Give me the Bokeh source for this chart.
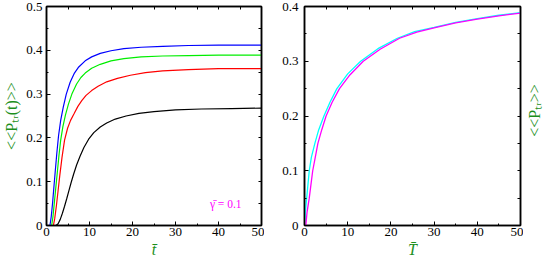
import math
from bokeh.plotting import figure
from bokeh.layouts import row
from bokeh.models import LinearAxis, FixedTicker, Label, Range1d
from bokeh.embed import file_html
from bokeh.resources import INLINE

# ---------------- data: left panel ----------------
t_blue = [0.8, 1.1, 1.4, 1.7, 2.0, 2.4, 2.8, 3.3, 3.9, 4.6, 5.5, 6.5, 7.5, 9, 10.5, 12.5, 15, 18, 22, 27, 33, 40, 50]
p_blue = [0, 0.02, 0.05, 0.085, 0.12, 0.165, 0.205, 0.24, 0.27, 0.3, 0.327, 0.348, 0.362, 0.376, 0.385, 0.393, 0.399, 0.404, 0.407, 0.409, 0.411, 0.412, 0.412]

t_green = [1.2, 1.5, 1.8, 2.1, 2.5, 2.9, 3.3, 3.8, 4.4, 5.1, 5.9, 7, 8, 9, 10.5, 12.5, 15, 18, 22, 27, 33, 40, 50]
p_green = [0, 0.02, 0.05, 0.08, 0.12, 0.16, 0.195, 0.225, 0.252, 0.277, 0.3, 0.323, 0.338, 0.348, 0.359, 0.368, 0.376, 0.381, 0.385, 0.387, 0.388, 0.389, 0.389]

t_red = [1.6, 1.9, 2.3, 2.7, 3.1, 3.6, 4.2, 4.9, 5.6, 6.4, 7.3, 8.2, 9.2, 10.5, 12, 14, 16.5, 19.5, 23, 27, 33, 40, 50]
p_red = [0, 0.015, 0.045, 0.08, 0.115, 0.155, 0.195, 0.222, 0.24, 0.255, 0.272, 0.285, 0.297, 0.308, 0.318, 0.328, 0.336, 0.343, 0.349, 0.353, 0.356, 0.358, 0.358]

t_black = [2.2, 2.7, 3.2, 3.7, 4.2, 4.7, 5.2, 5.7, 6.3, 7, 7.8, 8.7, 9.8, 11, 12.5, 14, 16, 18.5, 21.5, 25, 30, 36, 43, 50]
p_black = [0, 0.004, 0.014, 0.028, 0.044, 0.061, 0.079, 0.097, 0.117, 0.138, 0.158, 0.178, 0.197, 0.212, 0.225, 0.234, 0.243, 0.25, 0.256, 0.26, 0.264, 0.266, 0.267, 0.268]

# ---------------- data: right panel ----------------
T_cyan = [0, 0.2, 0.5, 0.8, 1.1, 1.6, 2.4, 3.3, 4.5, 5.9, 7.5, 10, 13, 17, 21.5, 25.5, 30, 35, 40, 45, 50]
P_cyan = [0, 0.025, 0.05, 0.075, 0.1, 0.125, 0.15, 0.175, 0.2, 0.225, 0.25, 0.277, 0.3, 0.323, 0.342, 0.354, 0.362, 0.371, 0.378, 0.384, 0.389]

T_magenta = [0.3, 0.6, 1.1, 1.5, 1.9, 2.5, 3.1, 4, 5, 6.4, 8.1, 10.5, 13.6, 17.5, 22, 26, 30, 35, 40, 45, 50]
P_magenta = [0, 0.025, 0.05, 0.075, 0.1, 0.125, 0.15, 0.175, 0.2, 0.225, 0.25, 0.275, 0.3, 0.322, 0.342, 0.353, 0.361, 0.37, 0.377, 0.383, 0.388]

# ---------------- ticks / labels ----------------
x_ticks = [0, 10, 20, 30, 40, 50]
x_minor = [5, 15, 25, 35, 45]
y_ticks_left = [0, 0.1, 0.2, 0.3, 0.4, 0.5]
y_labels_left = ["0", "0.1", "0.2", "0.3", "0.4", "0.5"]
y_minor_left = [0.05, 0.15, 0.25, 0.35, 0.45]
y_ticks_right = [0, 0.1, 0.2, 0.3, 0.4]
y_labels_right = ["0", "0.1", "0.2", "0.3", "0.4"]
y_minor_right = [0.05, 0.15, 0.25, 0.35]

left_ylabel = "<<Pₜᵣ(t)>>"
left_xlabel = "t̄"
right_ylabel = "<<Pₜᵣ>>"
right_xlabel = "T̄"
gamma_text = "γ̄ = 0.1"
gamma_pos = (38.0, 0.05)
right_label_y = 0.21

FONT = "Liberation Serif"
LABEL_GREEN = "#1c8f1c"
FRAME_H = 219


def base_axis(ax):
    ax.axis_line_width = 1.5
    ax.axis_line_color = "black"
    ax.major_tick_line_width = 1
    ax.minor_tick_line_width = 1
    ax.major_tick_out = 0
    ax.minor_tick_out = 0
    ax.axis_label_text_font = FONT
    ax.axis_label_text_color = LABEL_GREEN
    ax.axis_label_text_font_style = "normal"
    ax.axis_label_text_font_size = "16px"
    ax.axis_label_standoff = 1


def labelled_axis(ax, ticks, minor, labels=None, standoff=3):
    base_axis(ax)
    ax.ticker = FixedTicker(ticks=ticks, minor_ticks=minor)
    ax.major_tick_in = 4
    ax.minor_tick_in = 2
    ax.major_label_text_font = FONT
    ax.major_label_text_color = "black"
    ax.major_label_text_font_size = "13px"
    ax.major_label_standoff = standoff
    if labels is not None:
        ax.major_label_overrides = {t: l for t, l in zip(ticks, labels)}


def mirror_axis(ticks, minor):
    # mirror side: every tick drawn as an unlabelled (minor) tick
    ax = LinearAxis()
    base_axis(ax)
    ax.ticker = FixedTicker(ticks=[], minor_ticks=sorted(list(ticks) + list(minor)))
    ax.minor_tick_in = 3
    ax.major_label_standoff = 0
    ax.axis_label_standoff = 0
    return ax


def make_fig(fw, bl, br, yr, yt, yl, ym, xlabel, ystand):
    p = figure(frame_width=fw, frame_height=FRAME_H, output_backend="svg", toolbar_location=None,
               x_range=Range1d(0, 50), y_range=Range1d(0, yr),
               min_border_left=bl, min_border_right=br, min_border_top=6, min_border_bottom=36)
    p.grid.visible = False
    p.outline_line_color = "black"
    p.outline_line_width = 1.5
    p.background_fill_color = "white"
    p.border_fill_color = "white"
    xb = p.xaxis[0]
    yl_ax = p.yaxis[0]
    labelled_axis(xb, x_ticks, x_minor, None, 2)
    labelled_axis(yl_ax, yt, ym, yl, ystand)
    xb.axis_label = xlabel
    xb.axis_label_text_font_style = "italic"
    xb.axis_label_text_font_size = "16px"
    xb.axis_label_standoff = 2
    p.add_layout(mirror_axis(x_ticks, x_minor), "above")
    return p, xb, yl_ax


# ---------------- left panel ----------------
p1, x1, y1 = make_fig(215, 44, 3, 0.5, y_ticks_left, y_labels_left, y_minor_left, left_xlabel, 4)
y1.axis_label = left_ylabel
y1.axis_label_standoff = 3
p1.add_layout(mirror_axis(y_ticks_left, y_minor_left), "right")

p1.line(t_black, p_black, line_color="black", line_width=1.2)
p1.line(t_red, p_red, line_color="#ff0000", line_width=1.2)
p1.line(t_green, p_green, line_color="#00ee00", line_width=1.2)
p1.line(t_blue, p_blue, line_color="#0000ff", line_width=1.2)

p1.add_layout(Label(x=gamma_pos[0], y=gamma_pos[1], text=gamma_text, text_color="#ff00ff",
                    text_font=FONT, text_font_size="11.5px", text_baseline="alphabetic"))

# ---------------- right panel ----------------
p2, x2, y2 = make_fig(216, 40, 3, 0.4, y_ticks_right, y_labels_right, y_minor_right, right_xlabel, 6)
p2.add_layout(mirror_axis(y_ticks_right, y_minor_right), "right")

p2.line(T_cyan, P_cyan, line_color="#00ffff", line_width=1.3)
p2.line(T_magenta, P_magenta, line_color="#ff00ff", line_width=1.3)

# ---------------- strip holding the right-hand y label ----------------
p3 = figure(frame_width=21, frame_height=FRAME_H, output_backend="svg", toolbar_location=None,
            x_range=Range1d(0, 1), y_range=p2.y_range,
            x_axis_location=None, y_axis_location=None,
            min_border_left=0, min_border_right=0, min_border_top=6, min_border_bottom=36)
p3.grid.visible = False
p3.outline_line_color = None
p3.background_fill_color = "white"
p3.border_fill_color = "white"
p3.add_layout(Label(x=0.5, y=right_label_y, text=right_ylabel, angle=math.pi / 2,
                    text_color=LABEL_GREEN, text_font=FONT, text_font_size="16px",
                    text_align="center", text_baseline="middle"))

layout = row(p1, p2, p3, spacing=0)
open("out.html", "w").write(file_html(layout, INLINE))
